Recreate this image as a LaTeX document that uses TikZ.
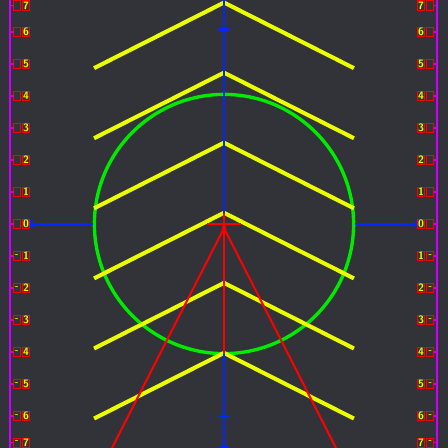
\documentclass[tikz,border=0pt]{standalone}
\usepackage{xcolor}
\usepackage{tikz}
\usetikzlibrary{arrows.meta, positioning}
\definecolor{bgdark}{RGB}{50,51,56}
\definecolor{railmag}{RGB}{204,0,255}
\definecolor{guideblue}{RGB}{0,40,255}
\definecolor{ringgreen}{RGB}{0,235,0}
\definecolor{chevyellow}{RGB}{235,255,0}
\tikzset{
    charbox/.style={draw=red, line width=0.7pt, text=chevyellow, inner sep=0pt, minimum width=6.4pt, minimum height=8.2pt, font=\sffamily\bfseries\fontsize{9.5}{9.5}\selectfont},
    railline/.style={draw=railmag, line width=1.8pt},
    guide/.style={draw=guideblue, line width=2.2pt},
    chevron/.style={draw=chevyellow, line width=3.6pt, miter limit=20},
    marker/.style={draw=red, line width=1.8pt}
}

\begin{document}
\begin{tikzpicture}[x=1cm, y=1cm]
    \fill[bgdark] (-7,-7) rectangle (7,7);
    \useasboundingbox (-7,-7) rectangle (7,7);
    % side rails
    \draw[railline] (-6.69,-7) -- (-6.69,7);
    \draw[railline] (6.67,-7) -- (6.67,7);
    % ring and chevrons
    \node (ring) [circle, draw=ringgreen, line width=3pt, minimum size=8.1cm, inner sep=0pt] at (0,0) {};
    \foreach \k in {0,...,5} {
        \pgfmathsetmacro\ay{-4.03+2.19*\k}
        \draw[chevron] (-4.06,{\ay-2.05}) -- (0,\ay) -- (4.06,{\ay-2.05});
    }
    % blue guide
    \coordinate (gtop) at (0,7);
    \coordinate (gbot) at (0,-6.97);
    \draw[guide, -{Bar[width=7pt]}] (gtop) -- (gbot);
    \draw[guide] (-0.17,6.08) -- (0.17,6.08);
    \draw[guide] (-0.17,-6.02) -- (0.17,-6.02);
    % labels
    \foreach \i in {-7,...,7} {
        \pgfmathsetmacro\ly{max(min(\i,6.83),-6.83)}
        \pgfmathtruncatemacro\d{abs(\i)}
        \node (lsign\i) [charbox] at (-6.47,\ly) {\ifnum\i<0 -\fi};
        \node (ldig\i) [charbox, right=1pt of lsign\i] {\d};
        \node (rdig\i) [charbox] at (6.16,\ly) {\d};
        \node (rsign\i) [charbox, right=1pt of rdig\i] {\ifnum\i<0 -\fi};
        \draw[railline, line width=1.4pt] (-6.69,\ly) -- (lsign\i.west);
        \draw[railline, line width=1.4pt] (rsign\i.east) -- (6.67,\ly);
    }
    \draw[guide, {Bar[width=7pt]}-] (ldig0.east) -- (ring.west);
    \draw[guide, -{Bar[width=7pt]}] (ring.east) -- (rdig0.west);
    % red marker
    \coordinate (hub) at (0,-0.13);
    \coordinate (spreadL) at (-3.5,-7);
    \coordinate (spreadR) at (3.5,-7);
    \draw[marker] (-0.53,0) -- (0.53,0);
    \draw[marker] (0,0.34) -- (0,-4.05);
    \draw[marker] (spreadL) -- (hub) -- (spreadR);
    \fill[red] (hub) circle (2pt);
\end{tikzpicture}
\end{document}
